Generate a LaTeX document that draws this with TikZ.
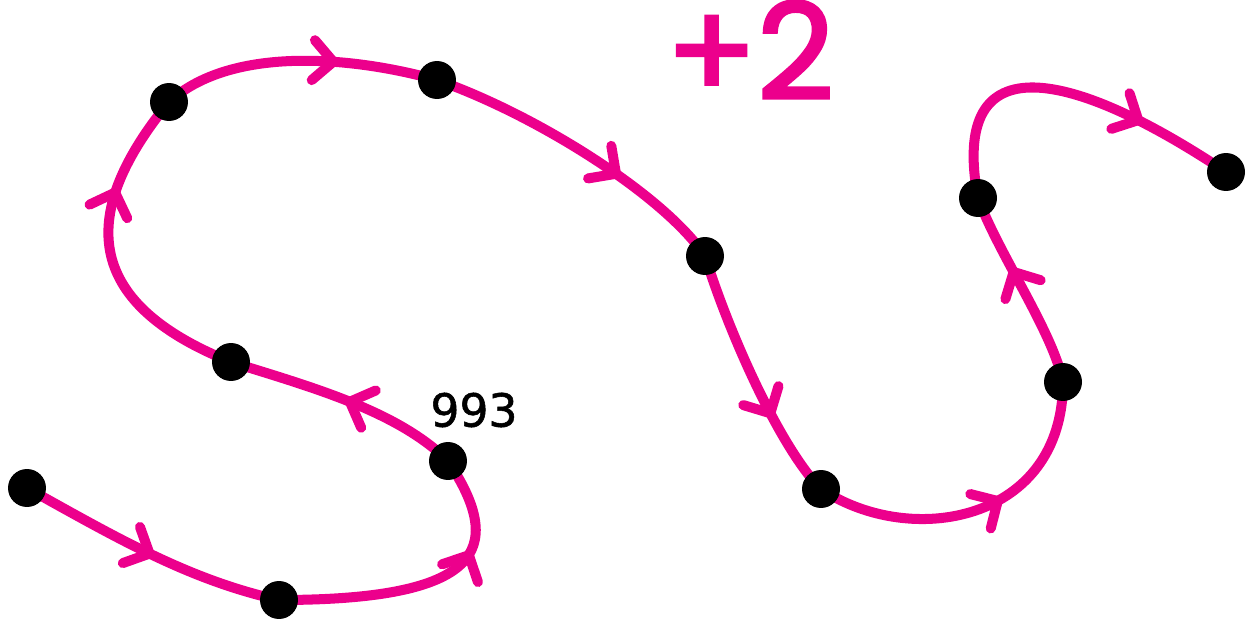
\documentclass[tikz,border=0pt]{standalone}
\usepackage{fontspec}
\usepackage{tikz}
\usetikzlibrary{arrows.meta, decorations.markings, backgrounds}
\usepackage{xcolor}

\definecolor{curvepink}{RGB}{236,0,140}
\newfontfamily\labelfont{DejaVu Sans}[FakeBold=1.2]
\newfontfamily\plusfont{Poppins}[FakeBold=2.5]

\begin{document}
\begin{tikzpicture}[x=0.02cm, y=0.02cm,
    dot/.style={circle, fill=black, inner sep=0pt, minimum size=0.76cm},
    curve/.style={curvepink, line width=5.7pt, line cap=round},
    midarrow/.style={postaction={decorate, decoration={markings,
        mark=at position #1 with {\arrow{Straight Barb[length=4mm, width=8mm, round]}}}}}]
    \useasboundingbox (0,0) rectangle (1252,623);

    % points along the walk
    \node[dot] (A) at (27,135) {};
    \node[dot] (B) at (279,23) {};
    \node[dot] (C) at (448,162) {};
    \node[dot] (D) at (231,261) {};
    \node[dot] (E) at (169,521) {};
    \node[dot] (F) at (437,543) {};
    \node[dot] (G) at (705,367) {};
    \node[dot] (H) at (821,134) {};
    \node[dot] (I) at (1063,241) {};
    \node[dot] (J) at (978,425) {};
    \node[dot] (K) at (1226,451) {};

    % labels
    \node[font=\labelfont\fontsize{26}{26}\selectfont] (lbl) at (474,213) {993};
    \node[text=curvepink, font=\plusfont\fontsize{76}{76}\selectfont] (plus) at (750,573) {+2};

    % the curve, behind the dots
    \begin{pgfonlayer}{background}
        \draw[curve, midarrow=0.52] (A.center) .. controls +(90,-50) and +(-90,20) .. (B.center);
        \draw[curve, midarrow=0.68] (B.center) .. controls +(200,0) and +(60,-90) .. (C.center);
        \draw[curve, midarrow=0.5] (C.center) .. controls +(-50,50) and +(80,-25) .. (D.center);
        \draw[curve, midarrow=0.7] (D.center) .. controls +(-150,60) and +(-90,-110) .. (E.center);
        \draw[curve, midarrow=0.64] (E.center) .. controls +(60,55) and +(-90,25) .. (F.center);
        \draw[curve, midarrow=0.64] (F.center) .. controls +(100,-35) and +(-40,60) .. (G.center);
        \draw[curve, midarrow=0.67] (G.center) .. controls +(25,-80) and +(-40,40) .. (H.center);
        \draw[curve, midarrow=0.58] (H.center) .. controls +(90,-60) and +(0,-140) .. (I.center);
        \draw[curve, midarrow=0.62] (I.center) .. controls +(-10,50) and +(20,-55) .. (J.center);
        \draw[curve, midarrow=0.73] (J.center) .. controls +(-30,160) and +(-150,100) .. (K.center);
    \end{pgfonlayer}
\end{tikzpicture}
\end{document}
